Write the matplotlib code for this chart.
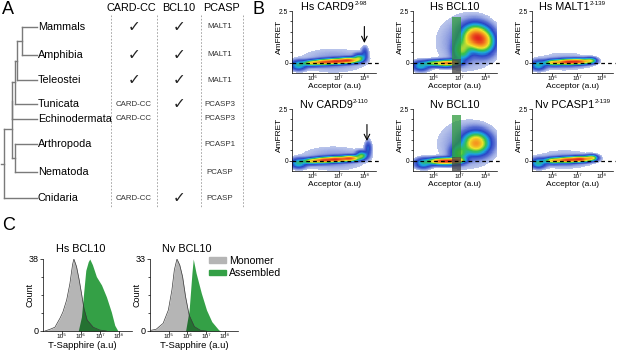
import numpy as np
import matplotlib
matplotlib.use("Agg")
import matplotlib.pyplot as plt
from matplotlib.colors import LinearSegmentedColormap
from matplotlib.patches import Patch
from matplotlib.ticker import FixedLocator, NullLocator

plt.rcParams["font.family"] = ["Liberation Sans", "DejaVu Sans"]

# ---- panel A data ----
taxa = ["Mammals", "Amphibia", "Teleostei", "Tunicata", "Echinodermata",
        "Arthropoda", "Nematoda", "Cnidaria"]
card_cc = ["check", "check", "check", "CARD-CC", "CARD-CC", "", "", "CARD-CC"]
bcl10 = ["check", "check", "check", "check", "", "", "", "check"]
pcasp = ["MALT1", "MALT1", "MALT1", "PCASP3", "PCASP3", "PCASP1", "PCASP", "PCASP"]
columns = ["CARD-CC", "BCL10", "PCASP"]
# tree: (child a, child b, branch x in px); leaves are 0..7, nodes 8..
tree_nodes = [(0, 1, 22), (8, 2, 17), (9, 3, 15), (10, 4, 12),
              (5, 6, 15), (11, 12, 12), (13, 7, 4)]

# ---- panel B data: populations (log10 acceptor, AmFRET, spread x, spread y, weight) ----
b_names = ["Hs CARD9", "Hs BCL10", "Hs MALT1", "Nv CARD9", "Nv BCL10", "Nv PCASP1"]
b_sups = ["2-98", "", "2-139", "2-110", "", "2-139"]
pops_hs_card9 = [(5.45, -0.12, 0.18, 0.14, 0.3), (5.95, -0.02, 0.2, 0.09, 0.55),
                 (6.4, 0.02, 0.22, 0.09, 0.8), (6.9, 0.06, 0.25, 0.09, 1.0),
                 (7.4, 0.11, 0.22, 0.09, 0.95), (7.8, 0.22, 0.13, 0.12, 0.4),
                 (8.02, 0.45, 0.08, 0.2, 0.12), (6.8, 0.1, 0.9, 0.4, 0.04)]
pops_hs_bcl10 = [(5.5, -0.15, 0.2, 0.15, 0.3), (6.0, -0.03, 0.22, 0.1, 0.5),
                 (6.45, -0.03, 0.2, 0.1, 0.8), (6.8, 0.0, 0.18, 0.1, 0.55),
                 (7.1, 0.6, 0.2, 0.3, 0.45), (7.6, 1.25, 0.3, 0.35, 1.0),
                 (7.95, 1.0, 0.25, 0.35, 0.6), (7.3, 1.0, 0.75, 0.85, 0.06)]
pops_hs_malt1 = [(5.45, -0.12, 0.18, 0.14, 0.3), (6.05, 0.0, 0.22, 0.09, 0.65),
                 (6.6, 0.03, 0.25, 0.09, 1.0), (7.1, 0.05, 0.25, 0.09, 0.95),
                 (7.55, 0.1, 0.15, 0.09, 0.45), (6.5, 0.05, 0.8, 0.3, 0.04)]
pops_nv_card9 = [(5.45, -0.12, 0.18, 0.14, 0.3), (5.95, -0.02, 0.2, 0.09, 0.55),
                 (6.4, 0.02, 0.22, 0.09, 0.85), (6.9, 0.06, 0.25, 0.09, 1.0),
                 (7.45, 0.11, 0.22, 0.09, 0.9), (7.9, 0.25, 0.13, 0.12, 0.4),
                 (8.15, 0.6, 0.08, 0.22, 0.15), (6.8, 0.1, 0.9, 0.4, 0.04)]
pops_nv_bcl10 = [(5.6, -0.12, 0.2, 0.15, 0.3), (6.1, -0.03, 0.22, 0.1, 0.6),
                 (6.5, -0.03, 0.25, 0.1, 1.0), (6.9, 0.0, 0.2, 0.09, 0.6),
                 (7.0, 0.35, 0.2, 0.25, 0.4), (7.65, 0.85, 0.3, 0.32, 0.8),
                 (7.3, 0.8, 0.75, 0.75, 0.05)]
pops_nv_pcasp1 = [(5.45, -0.12, 0.18, 0.14, 0.3), (6.05, 0.0, 0.22, 0.09, 0.6),
                  (6.6, 0.03, 0.25, 0.09, 0.9), (7.15, 0.07, 0.25, 0.09, 1.0),
                  (7.6, 0.14, 0.15, 0.09, 0.5), (6.5, 0.05, 0.8, 0.3, 0.04)]
b_pops = [pops_hs_card9, pops_hs_bcl10, pops_hs_malt1,
          pops_nv_card9, pops_nv_bcl10, pops_nv_pcasp1]
arrow_x = [8.0, None, None, 8.1, None, None]       # log10 acceptor
gate_x = [6.69, 7.04]                               # log10 acceptor
gate_split, gate_top = 0.2, 2.2                     # AmFRET
b_xticks = [1e6, 1e7, 1e8]
b_xticklabels = ["10\u2076", "10\u2077", "10\u2078"]

# ---- panel C data: histograms (log10 T-Sapphire, count) ----
hs_mono_x = [4.1, 4.37, 4.63, 4.9, 5.05, 5.25, 5.42, 5.56, 5.63, 5.77, 5.91,
             6.03, 6.16, 6.33, 6.65, 7.0, 7.35]
hs_mono_y = [0, 0.9, 2, 6.8, 10, 16.4, 25, 35, 38, 34, 27, 20, 12, 5.8, 2, 0.5, 0]
hs_asm_x = [5.86, 6.03, 6.16, 6.26, 6.39, 6.47, 6.61, 6.82, 7.09, 7.35, 7.61, 7.79, 7.96]
hs_asm_y = [0, 7.5, 21.6, 32, 36.6, 38, 35, 28.7, 24.3, 18, 10, 3, 0]
nv_mono_x = [3.87, 4.33, 4.7, 4.98, 5.17, 5.3, 5.44, 5.59, 5.74, 5.9, 6.09,
             6.37, 6.7, 7.0]
nv_mono_y = [0, 0.8, 3.5, 9.6, 18.8, 28, 33, 30.2, 24.9, 15.7, 7.3, 2, 0.3, 0]
nv_asm_x = [5.9, 6.09, 6.24, 6.31, 6.46, 6.74, 7.02, 7.3, 7.67, 7.8]
nv_asm_y = [0, 9.6, 26.6, 33, 26.6, 17.4, 9.6, 4.3, 0.5, 0]
c_titles = ["Hs BCL10", "Nv BCL10"]
c_max = [38, 33]
c_xticks = [1e5, 1e6, 1e7, 1e8]
c_xticklabels = ["10\u2075", "10\u2076", "10\u2077", "10\u2078"]

W, H = 617, 350
fig = plt.figure(figsize=(W / 100, H / 100), dpi=100)
renderer = fig.canvas.get_renderer()
green = "#34a046"


def box(x0, y0, x1, y1):
    return [x0 / W, 1 - y1 / H, (x1 - x0) / W, (y1 - y0) / H]


def ftext(x, y, s, **kw):
    fig.text(x / W, 1 - y / H, s, **kw)


def title_with_sup(xc, ybase, main, sup, size=7.8):
    # main text + smaller raised superscript, centred together on xc (px)
    t1 = fig.text(0, 1 - ybase / H, main, fontsize=size, va="baseline")
    w1 = t1.get_window_extent(renderer).width
    w2 = 0
    if sup:
        t2 = fig.text(0, 1 - (ybase - 4.5) / H, sup, fontsize=size * 0.58, va="baseline")
        w2 = t2.get_window_extent(renderer).width + 0.5
    x0 = xc - (w1 + w2) / 2
    t1.set_x(x0 / W)
    if sup:
        t2.set_x((x0 + w1 + 0.5) / W)


def style_axes(ax):
    for s in ["top", "right"]:
        ax.spines[s].set_visible(False)
    for s in ["left", "bottom"]:
        ax.spines[s].set_linewidth(0.5)


# ================= A =================
axa = fig.add_axes([0, 0, 1, 1])
axa.set_xlim(0, W)
axa.set_ylim(H, 0)
axa.axis("off")

row_y = [27, 55, 80, 104, 119, 144, 172, 198]
col_x = [131, 179, 222]
tree_c = "#7a7a7a"

ftext(8, 9, "A", fontsize=13, ha="center", va="center")
for name, x in zip(columns, col_x):
    ftext(x, 8, name, fontsize=7.8, ha="center", va="center")
for x in [111, 157, 201, 243]:
    axa.plot([x, x], [15, 207], color="#9a9a9a", lw=0.6, ls=(0, (2, 2)))

# tree
node_y = list(row_y)
node_x = [37] * len(row_y)
for a, b, x in tree_nodes:
    for c in (a, b):
        axa.plot([x, node_x[c]], [node_y[c], node_y[c]], color=tree_c, lw=1.0)
    axa.plot([x, x], [node_y[a], node_y[b]], color=tree_c, lw=1.0)
    node_y.append((node_y[a] + node_y[b]) / 2)
    node_x.append(x)
axa.plot([1, 4], [node_y[-1], node_y[-1]], color=tree_c, lw=1.0)

for i, name in enumerate(taxa):
    y = row_y[i]
    axa.text(38, y, name, fontsize=7.8, va="center", ha="left")
    for val, x in [(card_cc[i], 134), (bcl10[i], 179), (pcasp[i], 220)]:
        if val == "check":
            axa.text(x, y, "\u2713", fontsize=11, ha="center", va="center",
                     family="DejaVu Sans", color="#222222")
        elif val:
            axa.text(x, y, val, fontsize=5.7, ha="center", va="center",
                     color="#333333")

# ================= B =================
ftext(258, 9, "B", fontsize=13, ha="center", va="center")
flow_cmap = LinearSegmentedColormap.from_list("flow", [
    (0.0, "#e8ecf8"), (0.1, "#b3bfe9"), (0.2, "#5a6fd2"), (0.3, "#2a47c6"),
    (0.42, "#1aa6e0"), (0.55, "#38c24a"), (0.68, "#eee42a"), (0.82, "#f5961f"),
    (1.0, "#e2261d")])

b_cols = [(292, 376), (413, 497), (532, 613)]
b_rows = [(11, 73), (109, 171)]
gx = np.linspace(5.2, 8.45, 170)
gy = np.linspace(-0.5, 2.5, 120)
GX, GY = np.meshgrid(gx, gy)

for k in range(6):
    r, c = divmod(k, 3)
    ax = fig.add_axes(box(b_cols[c][0], b_rows[r][0], b_cols[c][1], b_rows[r][1]))
    d = np.zeros_like(GX)
    for cx, cy, sx, sy, w in b_pops[k]:
        d += w * np.exp(-0.5 * (((GX - cx) / sx) ** 2 + ((GY - cy) / sy) ** 2))
    d = d / d.max()
    d = np.ma.masked_less(d, 0.012)
    ax.pcolormesh(10 ** gx, gy, d ** 0.55, cmap=flow_cmap, vmin=0, vmax=1,
                  shading="nearest", rasterized=True, zorder=1)
    if c == 1:
        ax.fill_between([10 ** gate_x[0], 10 ** gate_x[1]], gate_split, gate_top,
                        color="#2e9a3e", alpha=0.75, lw=0, zorder=2)
        ax.fill_between([10 ** gate_x[0], 10 ** gate_x[1]], -0.5, gate_split,
                        color="#444444", alpha=0.75, lw=0, zorder=2)
    ax.axhline(0, color="black", lw=0.9, ls=(0, (3, 2.5)), zorder=3,
               xmax=1.03, clip_on=False)
    if arrow_x[k] is not None:
        ax.annotate("", xy=(10 ** arrow_x[k], 0.95), xytext=(10 ** arrow_x[k], 1.75),
                    arrowprops=dict(arrowstyle="->", lw=0.8, color="black",
                                    shrinkA=0, shrinkB=0))
    ax.set_xscale("log")
    ax.set_xlim(10 ** 5.2, 10 ** 8.45)
    ax.set_ylim(-0.5, 2.5)
    ax.xaxis.set_major_locator(FixedLocator(b_xticks))
    ax.xaxis.set_minor_locator(NullLocator())
    ax.set_xticklabels(b_xticklabels)
    ax.yaxis.set_major_locator(FixedLocator([0, 2.5]))
    ax.yaxis.set_minor_locator(FixedLocator([0.5, 1.0, 1.5, 2.0]))
    ax.set_yticklabels(["0", "2.5"])
    ax.tick_params(which="both", length=2, width=0.5, pad=0.8, labelsize=4.8)
    ax.tick_params(axis="x", labelsize=4.6, pad=0.5)
    ax.tick_params(which="minor", length=1.2)
    style_axes(ax)
    xc = (b_cols[c][0] + b_cols[c][1]) / 2
    title_with_sup(xc, b_rows[r][0] - 1.5, b_names[k], b_sups[k])
    ax.set_xlabel("Acceptor (a.u)", fontsize=6)
    ax.xaxis.set_label_coords(0.5, -0.165)
    ax.set_ylabel("AmFRET", fontsize=6)
    ax.yaxis.set_label_coords(-0.11, 0.58)

# ================= C =================
ftext(9, 225, "C", fontsize=13, ha="center", va="center")
c_cols = [(43, 132), (150, 238)]
c_data = [(hs_mono_x, hs_mono_y, hs_asm_x, hs_asm_y),
          (nv_mono_x, nv_mono_y, nv_asm_x, nv_asm_y)]
for k in range(2):
    ax = fig.add_axes(box(c_cols[k][0], 259, c_cols[k][1], 331))
    mx, my, ax_, ay = c_data[k]
    ax.fill_between(10 ** np.array(ax_), 0, ay, color=green, lw=0, zorder=1)
    ax.fill_between(10 ** np.array(mx), 0, my, color="black", alpha=0.29, lw=0, zorder=2)
    ax.plot(10 ** np.array(mx), my, color="#3a3a3a", lw=0.5, zorder=3)
    ax.set_xscale("log")
    ax.set_xlim(10 ** 4.0, 10 ** 8.7)
    ax.set_ylim(0, c_max[k])
    ax.xaxis.set_major_locator(FixedLocator(c_xticks))
    ax.xaxis.set_minor_locator(NullLocator())
    ax.set_xticklabels(c_xticklabels)
    ax.yaxis.set_major_locator(FixedLocator([0, c_max[k]]))
    ax.yaxis.set_minor_locator(FixedLocator(np.array([0.25, 0.5, 0.75]) * c_max[k]))
    ax.set_yticklabels(["0", str(c_max[k])])
    ax.tick_params(axis="x", length=2, width=0.5, pad=0.5, labelsize=4.6)
    ax.tick_params(axis="y", which="both", length=2, width=0.5, pad=1, labelsize=6.5)
    ax.tick_params(axis="y", which="minor", length=1.5)
    style_axes(ax)
    ax.set_title(c_titles[k], fontsize=7.8, pad=5, x=0.42)
    ax.set_xlabel("T-Sapphire (a.u)", fontsize=6.8)
    ax.xaxis.set_label_coords(0.44 if k == 0 else 0.5, -0.135)
    ax.set_ylabel("Count", fontsize=6.5)
    ax.yaxis.set_label_coords(-0.1, 0.5)

handles = [Patch(color="#b5b5b5", label="Monomer"), Patch(color=green, label="Assembled")]
fig.legend(handles=handles, loc="upper left", bbox_to_anchor=(209 / W, 1 - 256 / H),
           frameon=False, fontsize=7.6, handlelength=1.6, handleheight=0.45,
           handletextpad=0.3, labelspacing=0.2, borderpad=0, borderaxespad=0)

fig.savefig("out.png", dpi=100, facecolor="white")
